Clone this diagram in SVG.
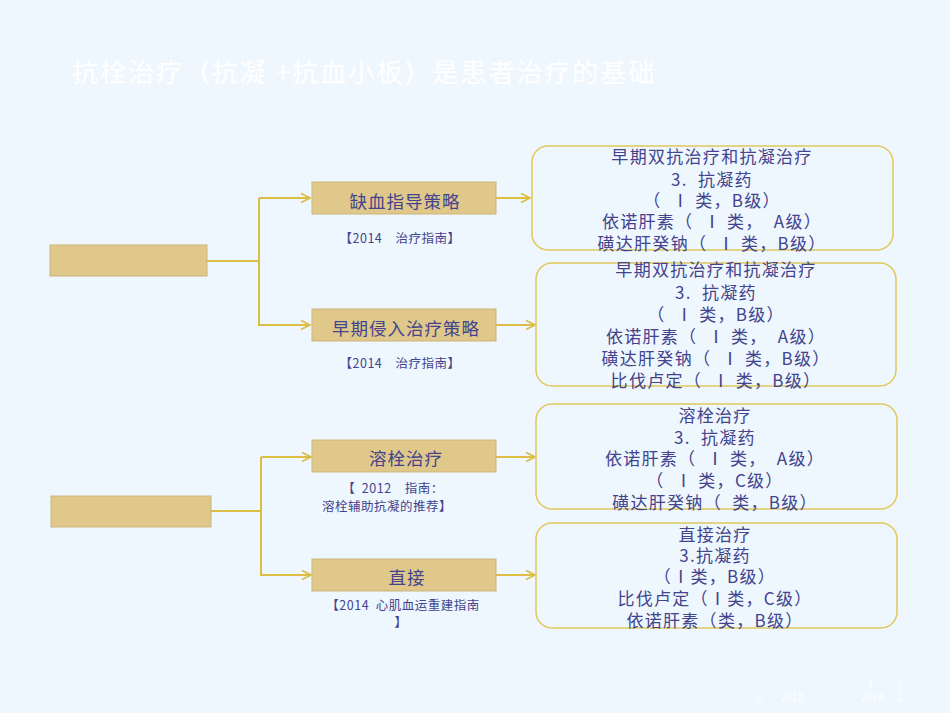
<svg xmlns="http://www.w3.org/2000/svg" width="950" height="713" viewBox="0 0 950 713">
<defs>
<marker id="arr" markerWidth="12" markerHeight="12" refX="10" refY="5" orient="auto" markerUnits="userSpaceOnUse">
<path d="M1,0.5 L10,5 L1,9.5" fill="none" stroke="#DDBE45" stroke-width="1.8"/>
</marker>
<style>
.bg{fill:#EEF7FD}
text{white-space:pre}
.title{font-family:"Noto Sans CJK SC","Liberation Sans",sans-serif;font-size:26px;letter-spacing:2px;fill:#FFFFFF}
.box{fill:#DFC88A;stroke:#CBB57C;stroke-width:1}
.rbox{fill:#EEF7FD;stroke:#E0C75E;stroke-width:1.5}
.nt{font-family:"Noto Sans CJK SC","Liberation Sans",sans-serif;font-size:17.5px;letter-spacing:1px;fill:#43438E;text-anchor:middle}
.bt{font-family:"Noto Sans CJK SC","Liberation Sans",sans-serif;font-size:17px;letter-spacing:1.3px;fill:#43438E;text-anchor:middle}
.lt{font-family:"Noto Sans CJK SC","Liberation Sans",sans-serif;font-size:12.5px;letter-spacing:0.5px;fill:#43438E;text-anchor:middle}
.ft{font-family:"Liberation Sans",sans-serif;font-size:10px;fill:#FFFFFF}
.ln{fill:none;stroke:#DDBE45;stroke-width:2}
</style>
</defs>
<rect class="bg" x="0" y="0" width="950" height="713"/>
<text class="title" x="72" y="82">抗栓治疗（抗凝 +抗血小板）是患者治疗的基础</text>

<g id="connectors">
<polyline class="ln" points="207,261 259,261"/>
<polyline class="ln" points="259,198 259,325 310,325" marker-end="url(#arr)"/>
<polyline class="ln" points="259,198 310,198" marker-end="url(#arr)"/>
<polyline class="ln" points="496,198 530,198" marker-end="url(#arr)"/>
<polyline class="ln" points="496,325 535,325" marker-end="url(#arr)"/>
<polyline class="ln" points="211,511 261,511"/>
<polyline class="ln" points="261,457 261,575 311,575" marker-end="url(#arr)"/>
<polyline class="ln" points="261,457 311,457" marker-end="url(#arr)"/>
<polyline class="ln" points="496,457 535,457" marker-end="url(#arr)"/>
<polyline class="ln" points="496,575 535,575" marker-end="url(#arr)"/>
</g>

<g id="root1"><rect class="box" x="50" y="245" width="157" height="31"/></g>
<g id="root2"><rect class="box" x="51" y="496" width="160" height="31"/></g>

<g id="n1">
<rect class="box" x="312" y="182" width="184" height="32"/>
<text class="nt" x="405" y="208">缺血指导策略</text>
<text class="lt" x="400" y="243">【2014    治疗指南】</text>
</g>
<g id="n2">
<rect class="box" x="312" y="309" width="184" height="32"/>
<text class="nt" x="406" y="335">早期侵入治疗策略</text>
<text class="lt" x="400" y="368">【2014    治疗指南】</text>
</g>
<g id="n3">
<rect class="box" x="312" y="440" width="184" height="32"/>
<text class="nt" x="406" y="465">溶栓治疗</text>
<text class="lt" x="393" y="493">【  2012    指南：</text>
<text class="lt" x="387" y="511">溶栓辅助抗凝的推荐】</text>
</g>
<g id="n4">
<rect class="box" x="312" y="559" width="184" height="32"/>
<text class="nt" x="407" y="584">直接</text>
<text class="lt" x="403" y="610">【2014  心肌血运重建指南</text>
<text class="lt" x="401" y="627">】</text>
</g>

<g id="r1">
<rect class="rbox" x="532" y="146" width="361" height="104" rx="16"/>
<text class="bt" x="712" y="163">早期双抗治疗和抗凝治疗</text>
<text class="bt" x="712" y="186">3.  抗凝药</text>
<text class="bt" x="712" y="207">（  Ⅰ 类，B级）</text>
<text class="bt" x="712" y="228">依诺肝素（  Ⅰ 类，  A级）</text>
<text class="bt" x="712" y="250">磺达肝癸钠（  Ⅰ 类，B级）</text>
</g>
<g id="r2">
<rect class="rbox" x="536" y="263" width="360" height="123" rx="16"/>
<text class="bt" x="716" y="276">早期双抗治疗和抗凝治疗</text>
<text class="bt" x="716" y="299">3.  抗凝药</text>
<text class="bt" x="716" y="321">（  Ⅰ 类，B级）</text>
<text class="bt" x="716" y="343">依诺肝素（  Ⅰ 类，  A级）</text>
<text class="bt" x="716" y="365">磺达肝癸钠（  Ⅰ 类，B级）</text>
<text class="bt" x="716" y="387">比伐卢定（  Ⅰ 类，B级）</text>
</g>
<g id="r3">
<rect class="rbox" x="536" y="404" width="361" height="105" rx="16"/>
<text class="bt" x="715" y="422">溶栓治疗</text>
<text class="bt" x="715" y="444">3.  抗凝药</text>
<text class="bt" x="715" y="465">依诺肝素（  Ⅰ 类，  A级）</text>
<text class="bt" x="715" y="487">（  Ⅰ 类，C级）</text>
<text class="bt" x="715" y="509">磺达肝癸钠（  类，B级）</text>
</g>
<g id="r4">
<rect class="rbox" x="536" y="523" width="361" height="105" rx="16"/>
<text class="bt" x="715" y="541">直接治疗</text>
<text class="bt" x="715" y="562">3.抗凝药</text>
<text class="bt" x="715" y="583">（Ⅰ类，B级）</text>
<text class="bt" x="715" y="605">比伐卢定（Ⅰ类，C级）</text>
<text class="bt" x="715" y="627">依诺肝素（类，B级）</text>
</g>

<g id="footer">
<text class="ft" x="756" y="701">3.</text>
<text class="ft" x="781" y="701">2012</text>
<text class="ft" x="868" y="688">1.</text>
<text class="ft" x="861" y="701">2014</text>
<text class="ft" x="897" y="690">1</text>
<text class="ft" x="897" y="701">1</text>
</g>
</svg>
